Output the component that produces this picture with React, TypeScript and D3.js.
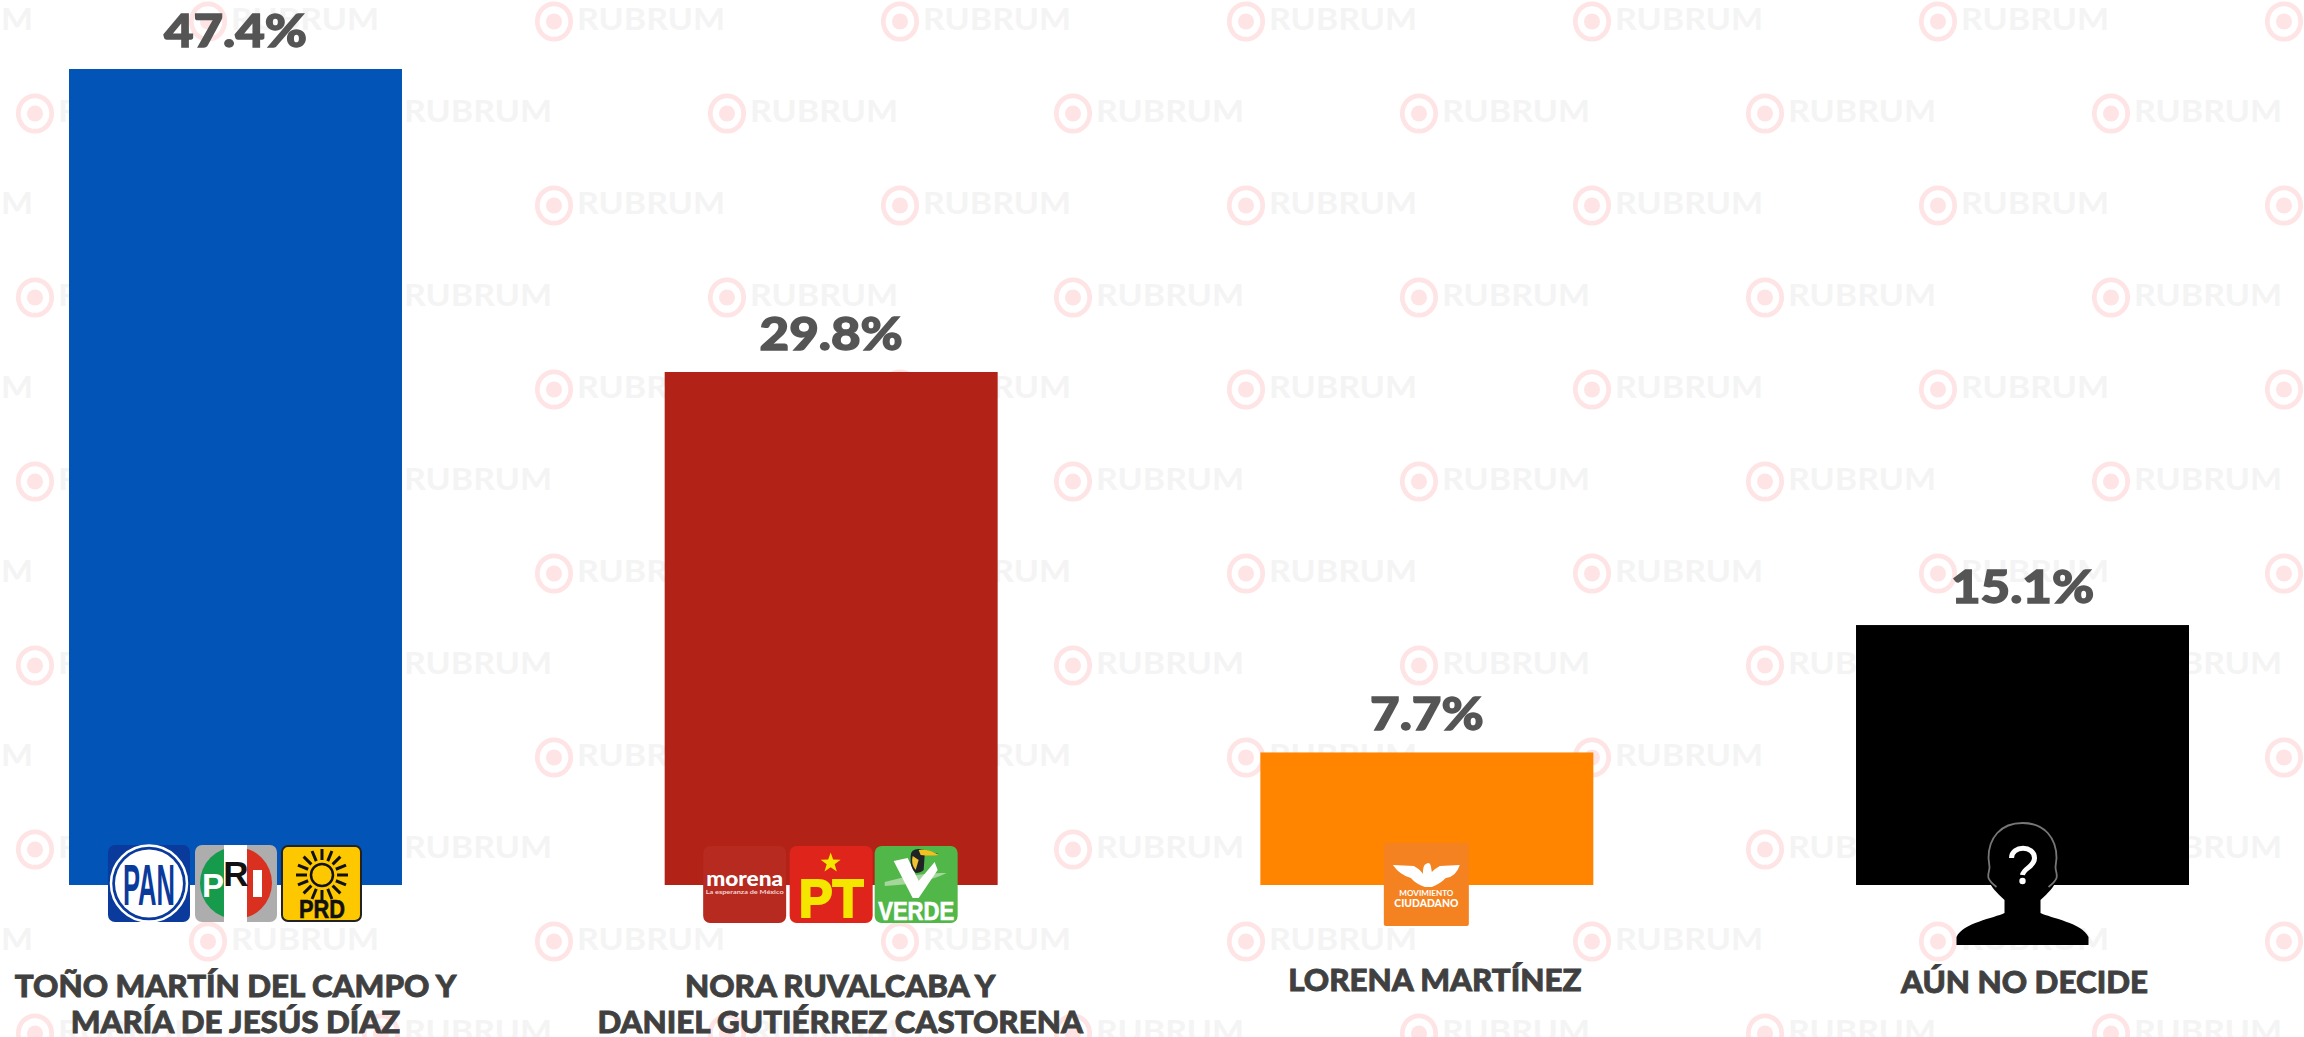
import React from "react";
import * as d3 from "d3";

const categories = ["a", "b", "c", "d"];
const values = [47.4, 29.8, 7.7, 15.1];
const valueLabels = ["47.4%", "29.8%", "7.7%", "15.1%"];
const barColors = ["#0254b6", "#b32216", "#ff8500", "#000000"];
const nameLines = [
  ["TOÑO MARTÍN DEL CAMPO Y", "MARÍA DE JESÚS DÍAZ"],
  ["NORA RUVALCABA Y", "DANIEL GUTIÉRREZ CASTORENA"],
  ["LORENA MARTÍNEZ"],
  ["AÚN NO DECIDE"],
];
const nameShift = [0, 9, 8, 2];
const nameBaseline = [997, 997, 991, 993];
const watermarkRows = d3.range(12);
const watermarkCols = d3.range(-1, 7);

const W = 2304;
const H = 1037;
const x = d3.scaleBand<string>().domain(categories).range([69, 2189]).paddingInner(0.441).paddingOuter(0);
const y = d3.scaleLinear().domain([0, 47.4]).range([885, 69]);
const FONT = "Lato, 'Open Sans', sans-serif";

function Watermark({ cx, cy }: { cx: number; cy: number }) {
  return (
    <g>
      <ellipse cx={cx} cy={cy} rx={16.7} ry={17.7} fill="none" stroke="#fee4e4" strokeWidth={4.7} />
      <circle cx={cx} cy={cy} r={8} fill="#fee4e4" />
      <text x={cx + 23} y={cy + 8} fontFamily={FONT} fontWeight={700} fontSize={31} fill="#f4f4f4" textLength={148} lengthAdjust="spacingAndGlyphs">RUBRUM</text>
    </g>
  );
}

function Pan({ tx, ty }: { tx: number; ty: number }) {
  return (
    <g transform={`translate(${tx},${ty})`}>
      <rect width={82} height={77} rx={7} fill="#0a3b9c" />
      <circle cx={41} cy={38.5} r={38} fill="none" stroke="#fff" strokeWidth={2.5} />
      <circle cx={41} cy={38.5} r={34} fill="#fff" />
      <text x={41} y={60} textAnchor="middle" fontFamily="'Liberation Sans Narrow', 'Liberation Sans', sans-serif" fontWeight={700} fontSize={58} fill="#0a3b9c" textLength={52} lengthAdjust="spacingAndGlyphs">PAN</text>
    </g>
  );
}

function Pri({ tx, ty }: { tx: number; ty: number }) {
  const arcL = d3.arc()({ innerRadius: 0, outerRadius: 36, startAngle: Math.PI, endAngle: 2 * Math.PI }) as string;
  const arcR = d3.arc()({ innerRadius: 0, outerRadius: 36, startAngle: 0, endAngle: Math.PI }) as string;
  return (
    <g transform={`translate(${tx},${ty})`}>
      <rect width={82} height={77} rx={7} fill="#adadad" />
      <path d={arcL} transform="translate(41,38)" fill="#169b4c" />
      <path d={arcR} transform="translate(41,38)" fill="#d9301f" />
      <rect x={29} y={0} width={23} height={77} fill="#fff" />
      <text x={18} y={52} textAnchor="middle" fontFamily="'Liberation Sans', sans-serif" fontWeight={700} fontSize={33} fill="#fff">P</text>
      <text x={41} y={41} textAnchor="middle" fontFamily="'Liberation Sans', sans-serif" fontWeight={700} fontSize={35} fill="#111">R</text>
      <rect x={58} y={25} width={9} height={27} fill="#fff" />
    </g>
  );
}

function Prd({ tx, ty }: { tx: number; ty: number }) {
  const angles = d3.range(16).map((i) => (i * Math.PI * 2) / 16);
  return (
    <g transform={`translate(${tx},${ty})`}>
      <rect x={1} y={1} width={79} height={75} rx={6} fill="#fdc800" stroke="#222" strokeWidth={2} />
      <circle cx={41} cy={30} r={11} fill="none" stroke="#111" strokeWidth={2.5} />
      {angles.map((a, i) => (
        <line key={i} x1={41 + 15 * Math.cos(a)} y1={30 + 15 * Math.sin(a)} x2={41 + 26 * Math.cos(a)} y2={30 + 26 * Math.sin(a)} stroke="#111" strokeWidth={3} />
      ))}
      <text x={41} y={73} textAnchor="middle" fontFamily="'Liberation Sans', sans-serif" fontWeight={700} fontSize={25} fill="#111" stroke="#111" strokeWidth={0.6} textLength={46} lengthAdjust="spacingAndGlyphs">PRD</text>
    </g>
  );
}

function Morena({ tx, ty }: { tx: number; ty: number }) {
  return (
    <g transform={`translate(${tx},${ty})`}>
      <rect width={83} height={77} rx={7} fill="#b62a20" />
      <text x={41.5} y={40} textAnchor="middle" fontFamily={FONT} fontWeight={900} fontSize={20} fill="#fff" textLength={77} lengthAdjust="spacingAndGlyphs">morena</text>
      <text x={41.5} y={48} textAnchor="middle" fontFamily={FONT} fontWeight={700} fontSize={6} fill="#f3d5d2" textLength={78} lengthAdjust="spacingAndGlyphs">La esperanza de México</text>
    </g>
  );
}

function Pt({ tx, ty }: { tx: number; ty: number }) {
  const star = d3.range(10).map((i) => {
    const r = i % 2 ? 4.2 : 10.5;
    const a = (i * Math.PI) / 5 - Math.PI / 2;
    return [41 + r * Math.cos(a), 17 + r * Math.sin(a)] as [number, number];
  });
  return (
    <g transform={`translate(${tx},${ty})`}>
      <rect width={83} height={77} rx={7} fill="#de241b" />
      <path d={(d3.line()(star) as string) + "Z"} fill="#f5e600" />
      <text x={41.5} y={71} textAnchor="middle" fontFamily="'Liberation Sans', sans-serif" fontWeight={700} fontSize={53} fill="#f5e600" stroke="#f5e600" strokeWidth={2} textLength={65} lengthAdjust="spacingAndGlyphs">PT</text>
    </g>
  );
}

function Verde({ tx, ty }: { tx: number; ty: number }) {
  return (
    <g transform={`translate(${tx},${ty})`}>
      <rect width={83} height={77} rx={7} fill="#50b748" />
      <path d="M10,36 Q45,26 72,27 Q50,38 10,40 Z" fill="#a5d69b" />
      <path d="M19,15 L33,12 L44,35 L60,16 L63,24 L44,52 L38,52 Z" fill="#fff" />
      <path d="M36,10 Q36,3 44,3 L50,4 L64,8 L50,9 L49,24 Q46,27 41,27 Q35,22 36,10 Z" fill="#1f2326" />
      <path d="M44,4 Q55,3 64,9 Q55,10 46,9 Z" fill="#f4c020" />
      <path d="M38,10 Q36,18 41,24 L44,14 Z" fill="#f1c232" />
      <text x={41.5} y={74} textAnchor="middle" fontFamily="'Liberation Sans', sans-serif" fontWeight={700} fontSize={25} fill="#fff" stroke="#fff" strokeWidth={0.7} textLength={76} lengthAdjust="spacingAndGlyphs">VERDE</text>
    </g>
  );
}

function Mc({ tx, ty }: { tx: number; ty: number }) {
  return (
    <g transform={`translate(${tx},${ty})`}>
      <rect width={85} height={83} rx={2} fill="#f58220" />
      <path d="M9,22 L30,23 Q36,26 39,31 Q39,22 42,21 Q46,18 47,23 L48,29 Q52,25 56,23 L76,22 Q72,34 62,35 Q56,41 48,44 L41,44 Q32,41 27,35 Q16,32 9,22 Z" fill="#fff" />
      <text x={42.5} y={53} textAnchor="middle" fontFamily={FONT} fontWeight={700} fontSize={8} fill="#fff" textLength={54} lengthAdjust="spacingAndGlyphs">MOVIMIENTO</text>
      <text x={42.5} y={64} textAnchor="middle" fontFamily={FONT} fontWeight={900} fontSize={11} fill="#fff" textLength={64} lengthAdjust="spacingAndGlyphs">CIUDADANO</text>
    </g>
  );
}

function Person({ cx }: { cx: number }) {
  const body = "M0,0 C-22,0 -34,15 -34,35 L-33,44 C-33,49 -35,50 -34,55 C-33,64 -25,70 -18,77 L-18,90 C-28,95 -60,100 -66,114 L-66,122 L66,122 L66,114 C60,100 28,95 18,90 L18,77 C25,70 33,64 34,55 C35,50 33,49 33,44 L34,35 C34,15 22,0 0,0 Z";
  const rim = "M-26,64 C-31,60 -33,58 -34,55 C-35,50 -33,49 -33,44 L-34,35 C-34,15 -22,0 0,0 C22,0 34,15 34,35 L33,44 C33,49 35,50 34,55 C33,58 31,60 26,64";
  return (
    <g transform={`translate(${cx},${823})`}>
      <path d={body} fill="#000" />
      <path d={rim} fill="none" stroke="#777" strokeWidth={1.8} />
      <path d="M-11,35 C-11,22 12,22 12,35 C12,44 1,45 0,52" fill="none" stroke="#fff" strokeWidth={5} />
      <circle cx={0} cy={58} r={3.2} fill="#fff" />
    </g>
  );
}

export default function App() {
  const c = (i: number) => (x(categories[i]) as number) + x.bandwidth() / 2;
  return (
    <svg width={W} height={H} viewBox={`0 0 ${W} ${H}`} style={{ position: "absolute", left: 0, top: 0, display: "block", background: "#fff" }}>
      {watermarkRows.map((r) =>
        watermarkCols.map((k) => (
          <Watermark key={`${r}-${k}`} cx={(r % 2 ? 35 : 208) + 346 * k} cy={21.5 + 92 * r} />
        ))
      )}
      {categories.map((cat, i) => (
        <rect key={cat} x={x(cat)} y={y(values[i])} width={x.bandwidth()} height={y(0) - y(values[i])} fill={barColors[i]} />
      ))}
      {categories.map((cat, i) => (
        <text key={cat} transform={`translate(${c(i)},${y(values[i]) - 22}) scale(1.11,1)`} textAnchor="middle" fontFamily={FONT} fontWeight={900} fontSize={46} fill="#555555" stroke="#555555" strokeWidth={1.4}>{valueLabels[i]}</text>
      ))}
      {categories.map((cat, i) =>
        nameLines[i].map((line, j) => (
          <text key={line} transform={`translate(${c(i) + nameShift[i]},${nameBaseline[i] + j * 36}) scale(1.045,1)`} textAnchor="middle" fontFamily={FONT} fontWeight={900} fontSize={30} fill="#404040" stroke="#404040" strokeWidth={0.8}>{line}</text>
        ))
      )}
      <Pan tx={c(0) - 127.5} ty={845} />
      <Pri tx={c(0) - 40.5} ty={845} />
      <Prd tx={c(0) + 45.5} ty={845} />
      <Morena tx={c(1) - 128} ty={846} />
      <Pt tx={c(1) - 41.5} ty={846} />
      <Verde tx={c(1) + 43.5} ty={846} />
      <Mc tx={c(2) - 43} ty={843} />
      <Person cx={c(3)} />
    </svg>
  );
}
